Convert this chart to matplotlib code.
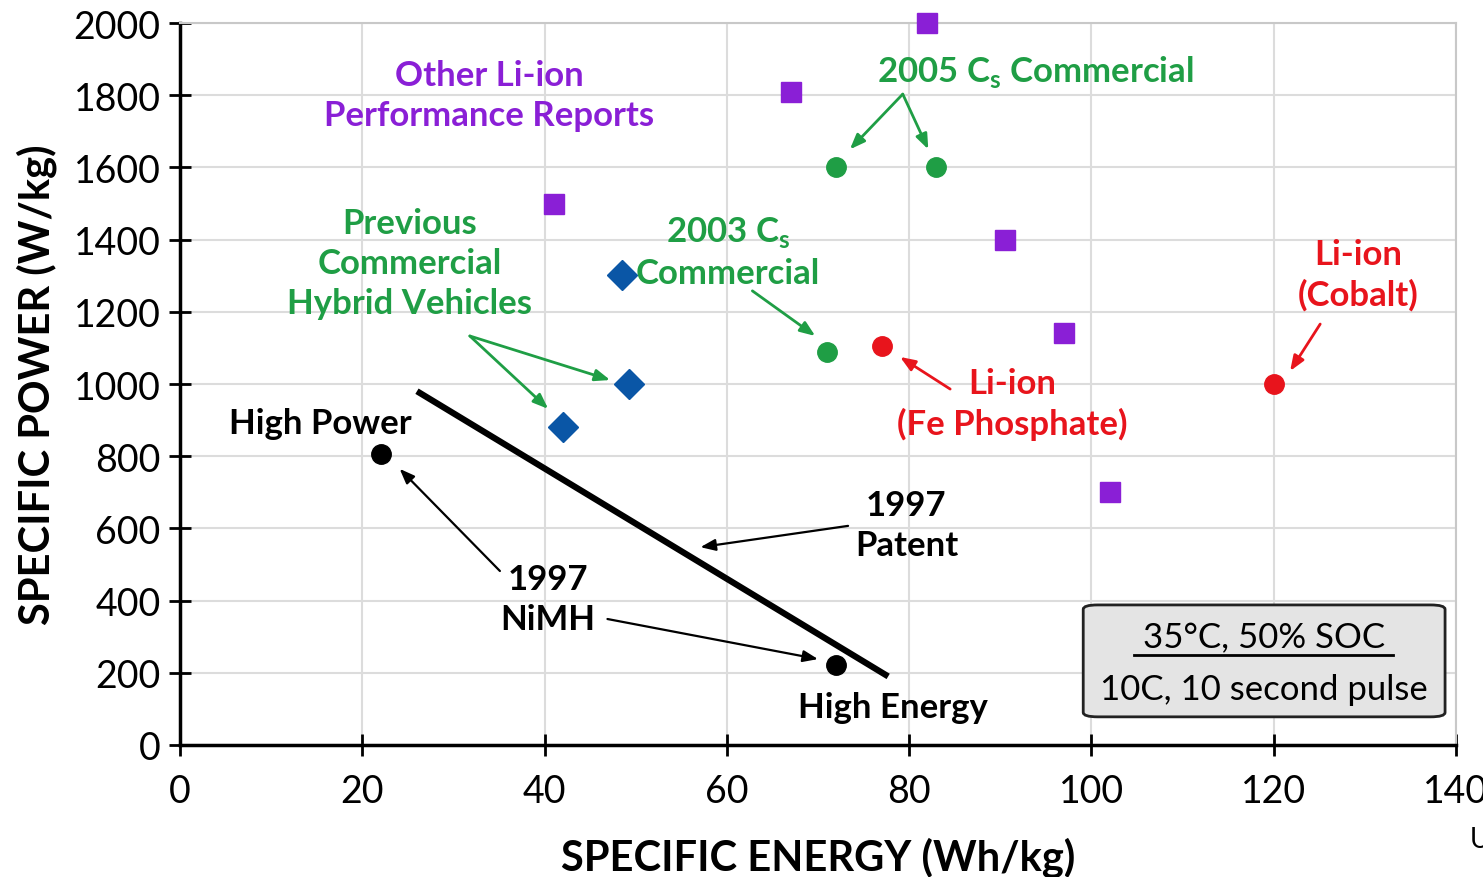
import matplotlib
matplotlib.use("Agg")
import matplotlib.pyplot as plt
from matplotlib.patches import FancyBboxPatch

plt.rcParams["font.family"] = ["Lato", "DejaVu Sans"]

# series (specific energy Wh/kg, specific power W/kg)
other_x = [82, 67, 41, 90.5, 97, 102]
other_y = [2000, 1810, 1500, 1400, 1140, 700]
cs2005_x = [72, 83]
cs2005_y = [1600, 1600]
cs2003_x = [71]
cs2003_y = [1090]
fe_x = [77]
fe_y = [1105]
cobalt_x = [120]
cobalt_y = [1000]
nimh_x = [22, 72]
nimh_y = [805, 222]
hybrid_x = [48.5, 49.3, 42]
hybrid_y = [1302, 1000, 882]
patent_x = [26, 77.7]
patent_y = [980, 190]

x_ticks = [0, 20, 40, 60, 80, 100, 120, 140]
y_ticks = [0, 200, 400, 600, 800, 1000, 1200, 1400, 1600, 1800, 2000]

PURPLE = "#8a1fd6"
GREEN = "#1f9e45"
RED = "#e8141c"
BLUE = "#0a56a6"

fig = plt.figure(figsize=(14.83, 8.78), dpi=100)
ax = fig.add_axes([180 / 1483, 1 - 746 / 878, (1456 - 180) / 1483, (746 - 24) / 878])
ax.set_xlim(0, 140)
ax.set_ylim(0, 2000)
ax.set_xticks(x_ticks)
ax.set_yticks(y_ticks)
ax.grid(True, color="#dcdcdc", lw=1.5)
ax.set_axisbelow(True)
for s in ["top", "right"]:
    ax.spines[s].set_color("#c8c8c8")
    ax.spines[s].set_linewidth(1.5)
for s in ["left", "bottom"]:
    ax.spines[s].set_linewidth(2.5)
ax.tick_params(direction="inout", length=16, width=2, labelsize=27)
ax.tick_params(axis="x", pad=12)
ax.tick_params(axis="y", pad=6)
ax.set_xlabel("SPECIFIC ENERGY (Wh/kg)", fontsize=30, fontweight="bold", labelpad=20)
ax.set_ylabel("SPECIFIC POWER (W/kg)", fontsize=30, fontweight="bold", labelpad=12)

kw = dict(ls="none", clip_on=False, zorder=5)
ax.plot(patent_x, patent_y, color="black", lw=4.5, solid_capstyle="butt", zorder=4)
ax.plot(other_x, other_y, marker="s", ms=14, color=PURPLE, **kw)
ax.plot(cs2005_x, cs2005_y, marker="o", ms=14, color=GREEN, **kw)
ax.plot(cs2003_x, cs2003_y, marker="o", ms=14, color=GREEN, **kw)
ax.plot(fe_x, fe_y, marker="o", ms=14, color=RED, **kw)
ax.plot(cobalt_x, cobalt_y, marker="o", ms=14, color=RED, **kw)
ax.plot(nimh_x, nimh_y, marker="o", ms=14, color="black", **kw)
ax.plot(hybrid_x, hybrid_y, marker="D", ms=15, color=BLUE, **kw)

tk = dict(fontsize=25, fontweight="bold", ha="center", va="center", linespacing=1.3)
ax.text(33.9, 1800, "Other Li-ion\nPerformance Reports", color=PURPLE, **tk)
ax.text(93.8, 1867, "2005 C$_\\mathregular{s}$ Commercial", color=GREEN, **tk)
ax.text(25.2, 1335, "Previous\nCommercial\nHybrid Vehicles", color=GREEN, **tk)
ax.text(60.1, 1366, "2003 C$_\\mathregular{s}$\nCommercial", color=GREEN, **tk)
ax.text(91.3, 945, "Li-ion\n(Fe Phosphate)", color=RED, **tk)
ax.text(129.3, 1305, "Li-ion\n(Cobalt)", color=RED, **tk)
ax.text(15.4, 892, "High Power", color="black", **tk)
ax.text(40.4, 404, "1997\nNiMH", color="black", **tk)
ax.text(79.7, 609, "1997\nPatent", color="black", **tk)
ax.text(78.2, 105, "High Energy", color="black", **tk)


def arrow(start, end, color, lw=2.0):
    ax.annotate("", xy=end, xytext=start,
                arrowprops=dict(arrowstyle="-|>,head_length=0.9,head_width=0.35",
                                color=color, lw=lw, shrinkA=0, shrinkB=0))


arrow((79.3, 1803), (73.5, 1650), GREEN)
arrow((79.3, 1803), (82.1, 1650), GREEN)
arrow((31.8, 1133), (40.4, 931), GREEN)
arrow((31.8, 1133), (47.2, 1011), GREEN)
arrow((62.8, 1258), (69.7, 1133), GREEN)
arrow((84.5, 986), (79.0, 1075), RED)
arrow((125.1, 1166), (121.8, 1036), RED)
arrow((35.1, 482), (24.1, 765), "black", 1.6)
arrow((46.9, 349), (70.0, 238), "black", 1.6)
arrow((73.3, 607), (57.1, 548), "black", 1.6)

box = FancyBboxPatch((99.1, 78), 39.7, 310, boxstyle="round,pad=0,rounding_size=1.6",
                     mutation_aspect=7.5, facecolor="#e4e4e4", edgecolor="#222222",
                     lw=2, zorder=6)
ax.add_patch(box)
ax.text(118.9, 298, "35°C, 50% SOC", fontsize=25, ha="center", va="center", zorder=7)
ax.plot([104.7, 133.1], [250, 250], color="black", lw=2, zorder=7)
ax.text(118.9, 155, "10C, 10 second pulse", fontsize=25, ha="center", va="center",
        zorder=7)

fig.text(0.991, 0.043, "U", fontsize=20, ha="left", va="center")

fig.savefig("out.png", dpi=100)
